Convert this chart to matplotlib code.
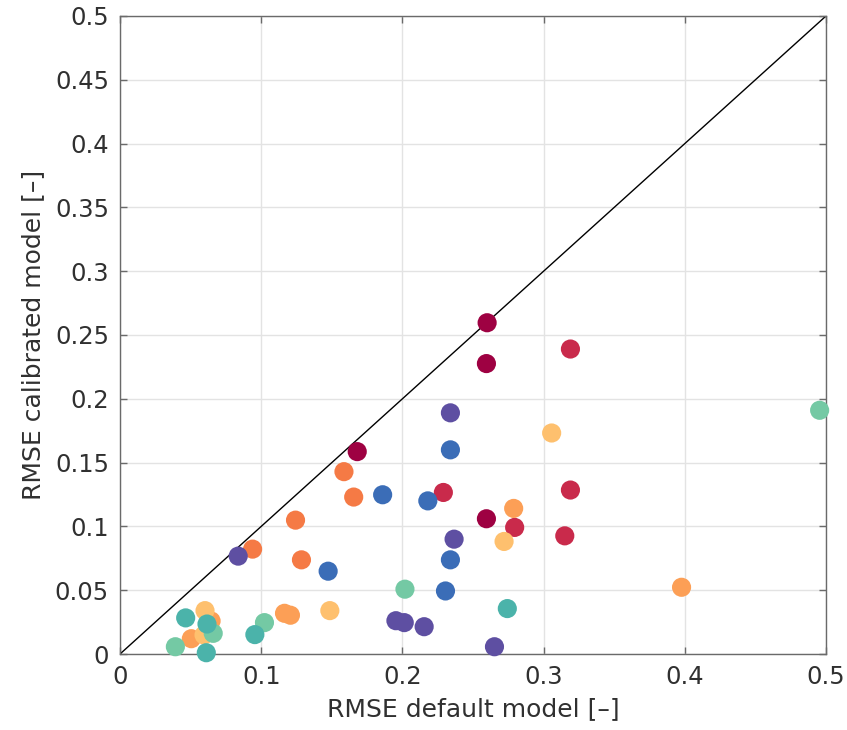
import matplotlib.pyplot as plt

# RMSE values per group (default model x, calibrated model y)
groups = ['g1', 'g2', 'g3', 'g4', 'g5', 'g6', 'g7', 'g8', 'g9']
colors = ['#9e0142', '#c92a4b', '#f57a45', '#fc9f56', '#fec06e',
          '#74c9a4', '#4bb3aa', '#3b6db7', '#5e4fa2']

x_default = [
    [0.260, 0.2595, 0.168, 0.2595],
    [0.319, 0.229, 0.319, 0.2795, 0.315],
    [0.1586, 0.1655, 0.1243, 0.0939, 0.1285],
    [0.2788, 0.3977, 0.1165, 0.1207, 0.0645, 0.0505],
    [0.3057, 0.272, 0.1486, 0.0602, 0.0595],
    [0.4955, 0.2018, 0.1023, 0.066, 0.0392],
    [0.2743, 0.0465, 0.0616, 0.0955, 0.0611],
    [0.234, 0.186, 0.218, 0.234, 0.1474, 0.2305],
    [0.234, 0.2366, 0.0837, 0.1954, 0.2013, 0.2154, 0.2652],
]
y_calibrated = [
    [0.2596, 0.2276, 0.1586, 0.106],
    [0.239, 0.1266, 0.1285, 0.0992, 0.0926],
    [0.1429, 0.123, 0.1049, 0.0822, 0.0738],
    [0.1141, 0.0523, 0.0319, 0.0304, 0.0259, 0.012],
    [0.1732, 0.0882, 0.034, 0.034, 0.0149],
    [0.191, 0.0508, 0.0246, 0.0162, 0.0057],
    [0.0356, 0.0283, 0.0235, 0.0152, 0.001],
    [0.160, 0.1248, 0.120, 0.0738, 0.0649, 0.0494],
    [0.189, 0.090, 0.0767, 0.0261, 0.0246, 0.0214, 0.0057],
]

xticks = [0, 0.1, 0.2, 0.3, 0.4, 0.5]
yticks = [0, 0.05, 0.1, 0.15, 0.2, 0.25, 0.3, 0.35, 0.4, 0.45, 0.5]

plt.rcParams['font.family'] = ['DejaVu Sans']

fig = plt.figure(figsize=(8.47, 7.3), dpi=100)
ax = fig.add_axes([0.1417, 0.1041, 0.8335, 0.8740])

for g, c, xs, ys in zip(groups, colors, x_default, y_calibrated):
    ax.scatter(xs, ys, s=190, color=c, edgecolors='none', zorder=3, clip_on=False)

# 1:1 line
ax.plot([0, 0.5], [0, 0.5], color='black', linewidth=1, zorder=2)

ax.set_xlim(0, 0.5)
ax.set_ylim(0, 0.5)
ax.set_xticks(xticks)
ax.set_yticks(yticks)
ax.set_xticklabels(['0', '0.1', '0.2', '0.3', '0.4', '0.5'])
ax.set_yticklabels(['0', '0.05', '0.1', '0.15', '0.2', '0.25', '0.3', '0.35',
                    '0.4', '0.45', '0.5'])
ax.grid(True, color='#e3e3e3', linewidth=1, zorder=0)
ax.set_axisbelow(True)

ax.tick_params(direction='in', length=5, width=1, color='#6a6a6a',
               labelcolor='#303030', labelsize=17.5, top=True, right=True, pad=8)
for sp in ax.spines.values():
    sp.set_color('#6a6a6a')
    sp.set_linewidth(1)

ax.set_xlabel('RMSE default model [–]', fontsize=18, color='#303030', labelpad=6)
ax.set_ylabel('RMSE calibrated model [–]', fontsize=18, color='#303030', labelpad=7)

fig.savefig('out.png', dpi=100)
